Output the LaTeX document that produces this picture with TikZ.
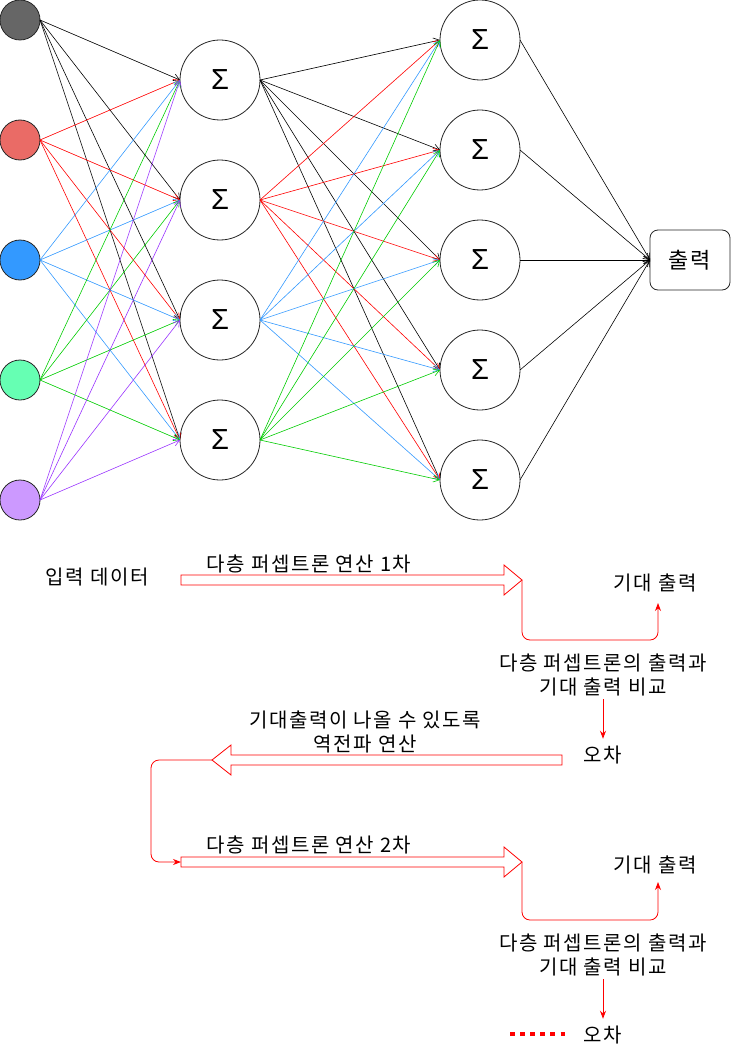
\documentclass[tikz,border=0pt]{standalone}
\usepackage{fontspec}
\newfontfamily\kr[LetterSpace=8]{Noto Sans CJK KR}
\newfontfamily\sg{Liberation Sans}
\usetikzlibrary{arrows.meta,calc}
\definecolor{cin1}{HTML}{666666}
\definecolor{cin2}{HTML}{EA6B66}
\definecolor{cin3}{HTML}{3399FF}
\definecolor{cin4}{HTML}{66FFB3}
\definecolor{cin5}{HTML}{CC99FF}
\definecolor{eblack}{HTML}{000000}
\definecolor{ered}{HTML}{FF0000}
\definecolor{eblue}{HTML}{3399FF}
\definecolor{egreen}{HTML}{00CC00}
\definecolor{epurple}{HTML}{9933FF}
\begin{document}
\begin{tikzpicture}[x=1pt,y=-1pt,
  inp/.style={circle,draw=black!85,line width=0.8pt,minimum size=40pt,inner sep=0pt,outer sep=0pt},
  hid/.style={circle,draw=black!85,fill=white,line width=0.8pt,minimum size=80pt,inner sep=0pt,outer sep=0pt,font=\sg\fontsize{29}{32}\selectfont},
  nnedge/.style={line width=0.6pt,-{Straight Barb[length=6pt,width=7pt]}},
  lbl/.style={font=\kr\fontsize{20}{24}\selectfont,inner sep=0pt,align=center},
  rc/.style={draw=red,line width=0.8pt,-{Stealth[length=8pt,width=6pt]},rounded corners=8pt},
  bigarr/.style={draw=red,fill=white,line width=0.8pt,line join=miter}
]
\useasboundingbox (0,0) rectangle (731,1051);

% input layer
\node[inp,fill=cin1] (i1) at (20,20) {};
\node[inp,fill=cin2] (i2) at (20,140) {};
\node[inp,fill=cin3] (i3) at (20,260) {};
\node[inp,fill=cin4] (i4) at (20,380) {};
\node[inp,fill=cin5] (i5) at (20,500) {};

% hidden layer 1
\node[hid] (a1) at (220,80) {Σ};
\node[hid] (a2) at (220,200) {Σ};
\node[hid] (a3) at (220,320) {Σ};
\node[hid] (a4) at (220,440) {Σ};

% hidden layer 2
\node[hid] (b1) at (480,40) {Σ};
\node[hid] (b2) at (480,150) {Σ};
\node[hid] (b3) at (480,260) {Σ};
\node[hid] (b4) at (480,370) {Σ};
\node[hid] (b5) at (480,480) {Σ};

% output
\node[draw=black!85,fill=white,rounded corners=8pt,line width=0.8pt,minimum width=80pt,minimum height=60pt,inner sep=0pt,outer sep=0pt,font=\kr\fontsize{22}{24}\selectfont] (out) at (690,260) {출력};

% edges input -> hidden 1
\foreach \s/\c in {i1/eblack,i2/ered,i3/eblue,i4/egreen,i5/epurple}
  \foreach \t in {a1,a2,a3,a4}
    \draw[nnedge,\c] (\s.east) -- (\t.west);

% edges hidden 1 -> hidden 2
\foreach \s/\c in {a1/eblack,a2/ered,a3/eblue,a4/egreen}
  \foreach \t in {b1,b2,b3,b4,b5}
    \draw[nnedge,\c] (\s.east) -- (\t.west);

% edges hidden 2 -> output
\foreach \s in {b1,b2,b3,b4,b5}
  \draw[nnedge,black] (\s.east) -- (out.west);

% ---------- lower flow ----------
\node[lbl] (indata) at (97,577) {입력 데이터};

\draw[bigarr] (181,575) -- (504,575) -- (504,565) -- (522,580) -- (504,595) -- (504,585) -- (181,585) -- cycle;
\coordinate (tip1) at (522,580);
\node[lbl] (op1) at (309,564) {다층 퍼셉트론 연산 1차};
\node[lbl] (exp1) at (655,583) {기대 출력};
\coordinate (e1) at (658,603);
\draw[rc] (tip1) -- (522,640) -- (658,640) -- (e1);

\node[lbl] (cmp1) at (603,675) {다층 퍼셉트론의 출력과\\기대 출력 비교};
\node[lbl] (err1) at (603,755) {오차};
\draw[rc,shorten <=3pt,shorten >=7pt] (cmp1.south) -- (err1.north);

\node[lbl] (bp) at (365,732) {기대출력이 나올 수 있도록\\역전파 연산};
\draw[bigarr] (562,755) -- (231,755) -- (231,745) -- (212,760) -- (231,775) -- (231,765) -- (562,765) -- cycle;
\coordinate (tip2) at (212,760);
\coordinate (tail3) at (181,862);
\draw[rc] (tip2) -- (151,760) -- (151,862) -- (tail3);

\draw[bigarr] (181,857) -- (504,857) -- (504,847) -- (522,862) -- (504,877) -- (504,867) -- (181,867) -- cycle;
\coordinate (tip3) at (522,862);
\node[lbl] (op2) at (309,845) {다층 퍼셉트론 연산 2차};
\node[lbl] (exp2) at (655,865) {기대 출력};
\coordinate (e2) at (658,882);
\draw[rc] (tip3) -- (522,920) -- (658,920) -- (e2);

\node[lbl] (cmp2) at (603,955) {다층 퍼셉트론의 출력과\\기대 출력 비교};
\node[lbl] (err2) at (603,1035) {오차};
\draw[rc,shorten <=3pt,shorten >=7pt] (cmp2.south) -- (err2.north);

\coordinate (d1) at (510,1034);
\coordinate (d2) at (566,1034);
\draw[red,line width=4.5pt,dash pattern=on 4.5pt off 5.6pt] (d1) -- (d2);
\end{tikzpicture}
\end{document}
